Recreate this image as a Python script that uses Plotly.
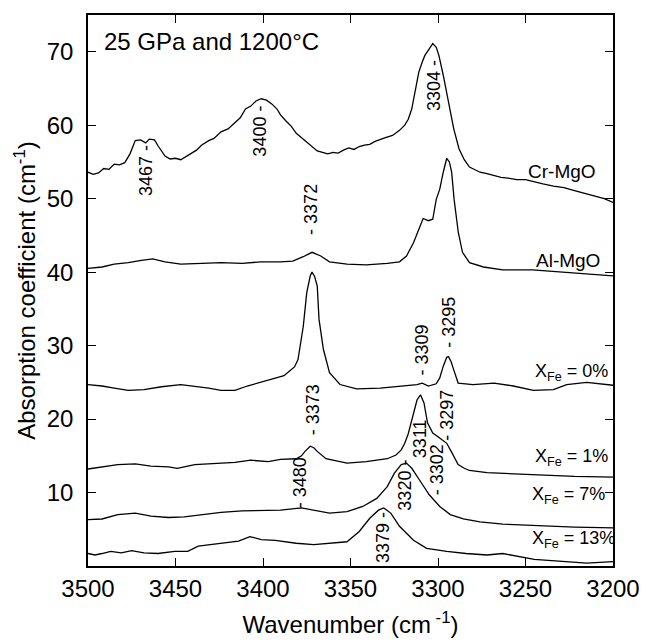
import plotly.graph_objects as go

# spectra (wavenumber, absorption coefficient)
cr_wn = [3500, 3497, 3494, 3491, 3488, 3485, 3482, 3479, 3476, 3473, 3470, 3467, 3465, 3462,
         3460, 3456, 3453, 3450, 3447, 3444, 3441, 3438, 3435, 3431, 3428, 3424, 3420, 3416,
         3413, 3410, 3407, 3404, 3401, 3398, 3395, 3392, 3390, 3387, 3384, 3381, 3378, 3375,
         3372, 3369, 3366, 3363, 3360, 3357, 3354, 3351, 3348, 3345, 3342, 3339, 3336, 3333,
         3330, 3326, 3322, 3319, 3317, 3315, 3313, 3311, 3309, 3307.5, 3305, 3303, 3301,
         3299.5, 3297, 3294, 3291, 3288, 3285, 3282, 3279, 3276, 3272, 3268, 3264, 3260, 3255,
         3250, 3246, 3240, 3234, 3228, 3222, 3216, 3211, 3205, 3200]
cr_abs = [53.6, 53.3, 53.5, 54.1, 54.0, 54.7, 54.6, 54.9, 56.1, 57.9, 58.0, 57.6, 58.1, 58.0,
          57.2, 55.8, 55.4, 55.5, 55.3, 55.7, 56.2, 56.6, 57.3, 57.9, 58.2, 59.1, 59.5, 60.4,
          61.0, 62.2, 62.6, 63.3, 63.6, 63.4, 62.9, 62.2, 61.4, 60.6, 59.9, 58.9, 58.3, 57.6,
          57.1, 56.5, 56.3, 56.1, 56.3, 56.2, 56.6, 56.9, 56.7, 57.1, 57.3, 57.4, 57.8, 58.0,
          58.3, 58.6, 59.3, 60.0, 60.8, 62.2, 64.5, 67.2, 68.6, 69.5, 70.4, 71.1, 70.6,
          69.5, 66.8, 63.1, 59.5, 56.8, 55.3, 54.3, 54.0, 53.6, 53.4, 53.1, 52.9, 52.8, 52.6,
          52.6, 52.4, 52.0, 51.7, 51.5, 51.1, 50.7, 50.4, 50.0, 49.5]

al_wn = [3500, 3492, 3485, 3477, 3469.5, 3463, 3456, 3447, 3435, 3424, 3412, 3401, 3390, 3383,
         3377, 3372, 3367, 3362, 3352, 3341, 3329, 3322, 3318, 3314, 3311, 3308.5, 3305.5, 3303,
         3301, 3299, 3297, 3295, 3293.5, 3292.2, 3290.8, 3288.4, 3286, 3282, 3274, 3263, 3246,
         3222, 3200]
al_abs = [40.5, 40.7, 41.1, 41.3, 41.6, 41.8, 41.4, 41.1, 41.2, 41.3, 41.2, 41.4, 41.4, 41.5,
          42.1, 42.7, 42.2, 41.4, 41.1, 41.0, 41.2, 41.4, 42.2, 44.0, 45.8, 47.3, 47.0, 47.2,
          49.9, 51.3, 53.6, 55.5, 55.0, 53.6, 49.9, 45.4, 42.7, 41.3, 40.7, 40.3, 40.3,
          39.9, 39.5]

fe0_wn = [3500, 3492, 3485, 3477, 3468, 3458, 3447, 3439, 3431, 3424, 3416, 3409, 3401, 3393,
          3388, 3385, 3382, 3380, 3377, 3375, 3373, 3372, 3370.5, 3369, 3368, 3365.5, 3362, 3356,
          3346.5, 3333, 3322, 3312, 3309, 3305.5, 3301, 3299, 3297, 3295, 3294, 3292.5, 3291,
          3288.5, 3280, 3268, 3257, 3245.5, 3234, 3226.5, 3215, 3200]
fe0_abs = [24.7, 24.5, 24.2, 23.9, 24.0, 24.4, 24.7, 24.5, 24.2, 23.9, 23.9, 24.5, 25.0, 25.5,
           25.9, 26.5, 27.1, 28.1, 32.6, 37.2, 39.5, 40.0, 39.4, 38.1, 33.6, 29.5, 26.3, 24.7,
           24.1, 24.2, 24.5, 24.7, 24.9, 24.5, 24.8, 25.6, 27.2, 28.4, 28.5, 27.8, 26.7,
           24.9, 24.7, 24.9, 24.5, 23.9, 24.0, 24.7, 25.0, 24.6]

fe1_wn = [3500, 3492, 3483, 3473, 3464, 3454, 3449, 3439, 3428, 3416, 3407, 3397, 3390, 3381,
          3378, 3376, 3373, 3371, 3369, 3366, 3364, 3352, 3341, 3329, 3324, 3321, 3319, 3317,
          3315, 3312, 3310, 3308, 3306, 3303, 3300, 3298, 3295, 3292, 3288.5, 3285, 3282, 3272,
          3263, 3245, 3222, 3200]
fe1_abs = [13.2, 13.5, 13.8, 13.9, 13.6, 13.5, 13.3, 13.8, 13.9, 14.1, 14.4, 14.2, 14.5, 14.6,
           15.0, 15.6, 16.3, 16.1, 15.6, 15.0, 14.6, 14.0, 14.2, 14.6, 15.1, 15.8, 16.7, 18.0,
           19.9, 22.6, 23.3, 22.2, 19.5, 18.1, 17.6, 17.2, 16.7, 15.4, 13.8, 13.3, 13.0, 12.7,
           12.6, 12.4, 12.2, 12.1]

fe7_wn = [3500, 3492, 3483, 3473, 3464, 3454, 3445, 3435, 3424, 3412, 3401, 3390, 3378, 3371,
          3362, 3352, 3343, 3335, 3329, 3325, 3321, 3318, 3315, 3310, 3305, 3299, 3293, 3285.5,
          3276, 3263, 3245, 3222, 3200]
fe7_abs = [6.3, 6.4, 7.0, 7.2, 6.8, 6.6, 6.7, 7.0, 7.3, 7.5, 7.5, 7.6, 7.9, 7.6,
           7.2, 7.4, 8.1, 9.2, 10.8, 12.6, 13.8, 14.0, 13.3, 11.5, 9.7, 8.1, 7.0, 6.4,
           6.0, 5.7, 5.5, 5.3, 5.2]

fe13_wn = [3500, 3496, 3492, 3487, 3481, 3475, 3468, 3460, 3450.5, 3443, 3437, 3429.5, 3422,
           3414, 3407.5, 3401, 3393, 3388, 3381, 3371, 3362, 3352, 3345, 3339, 3334, 3331, 3327,
           3322, 3314, 3306.5, 3295, 3284, 3272, 3263, 3245, 3230, 3215, 3200]
fe13_abs = [1.7, 1.5, 1.7, 2.0, 1.8, 2.1, 1.8, 1.7, 2.0, 2.0, 2.7, 2.9, 3.1,
            3.4, 4.0, 3.6, 3.5, 3.3, 3.1, 2.9, 3.1, 3.3, 4.7, 6.5, 7.6, 7.9, 7.2,
            5.4, 3.5, 2.4, 2.0, 1.7, 1.5, 1.7, 0.9, 0.7, 0.4, 0.6]

series = [(cr_wn, cr_abs), (al_wn, al_abs), (fe0_wn, fe0_abs),
          (fe1_wn, fe1_abs), (fe7_wn, fe7_abs), (fe13_wn, fe13_abs)]

# sample names and where they sit
names = ["Cr-MgO", "Al-MgO", "X<sub>Fe</sub> = 0%", "X<sub>Fe</sub> = 1%",
         "X<sub>Fe</sub> = 7%", "X<sub>Fe</sub> = 13%"]
name_x = [3250, 3245, 3246, 3246, 3247.5, 3247.5]
name_y = [53.7, 41.6, 26.4, 14.8, 9.6, 3.6]

# peak labels (vertical text)
peak_text = ["3467 -", "3400 -", "3304 -", "- 3372", "- 3309", "- 3295", "- 3373",
             "- 3297", "3311", "- 3302", "- 3480", "3320 -", "3379 -"]
peak_x = [3466.9, 3401.4, 3302.6, 3372.6, 3308.9, 3293.7, 3371.4,
          3294.6, 3310.3, 3300.9, 3378.9, 3318.6, 3331.1]
peak_y = [53.9, 59.2, 65.4, 48.6, 29.4, 33.1, 21.2,
          20.5, 17.4, 13.1, 11.4, 11.0, 3.9]

FONT = "Liberation Sans, Arial, sans-serif"

fig = go.Figure()
for wn, ab in series:
    fig.add_trace(go.Scatter(x=wn, y=ab, mode="lines",
                             line=dict(color="black", width=1.3), showlegend=False))

ann = []
for i, (t, x, y) in enumerate(zip(names, name_x, name_y)):
    ann.append(dict(x=x, y=y, xref="x", yref="y", text=t, showarrow=False,
                    xanchor="left", yanchor="middle",
                    font=dict(size=19 if i < 2 else 18, color="black")))
for t, x, y in zip(peak_text, peak_x, peak_y):
    ann.append(dict(x=x, y=y, xref="x", yref="y", text=t, showarrow=False, textangle=-90,
                    font=dict(size=18, color="black")))
ann.append(dict(x=3492, y=71.4, xref="x", yref="y", text="25 GPa and 1200°C", showarrow=False,
                xanchor="left", yanchor="middle", font=dict(size=24, color="black")))
# the zero label sits a little under its tick
ann.append(dict(x=-0.028, y=-0.9, xref="paper", yref="y", text="0", showarrow=False,
                xanchor="right", yanchor="middle", font=dict(size=24, color="black")))

fig.update_layout(
    width=647, height=642,
    margin=dict(l=88, r=34, t=15, b=76),
    paper_bgcolor="white", plot_bgcolor="white",
    font=dict(family=FONT, color="black"),
    annotations=ann,
)
fig.update_xaxes(range=[3500, 3200], tickvals=[3500, 3450, 3400, 3350, 3300, 3250, 3200],
                 ticks="inside", ticklen=8, tickwidth=1.3, tickcolor="black",
                 showline=True, linecolor="black", linewidth=1.5, mirror="ticks",
                 showgrid=False, zeroline=False, tickfont=dict(size=24), automargin=False,
                 title=dict(text="Wavenumber (cm<sup> -1</sup>)", font=dict(size=24), standoff=16))
fig.update_yaxes(range=[0, 75], tickvals=[0, 10, 20, 30, 40, 50, 60, 70],
                 ticktext=["", "10", "20", "30", "40", "50", "60", "70"],
                 ticks="inside", ticklen=8, tickwidth=1.3, tickcolor="black",
                 showline=True, linecolor="black", linewidth=1.5, mirror="ticks",
                 showgrid=False, zeroline=False, tickfont=dict(size=24), ticklabelstandoff=8,
                 automargin=False,
                 title=dict(text="Absorption coefficient (cm<sup>-1</sup>)", font=dict(size=24), standoff=4))

# drop the page's default body margin so the figure sits at the window's corner
fig.write_html("out.html", config={"displayModeBar": False},
               post_script="document.body.style.margin='0px';")
